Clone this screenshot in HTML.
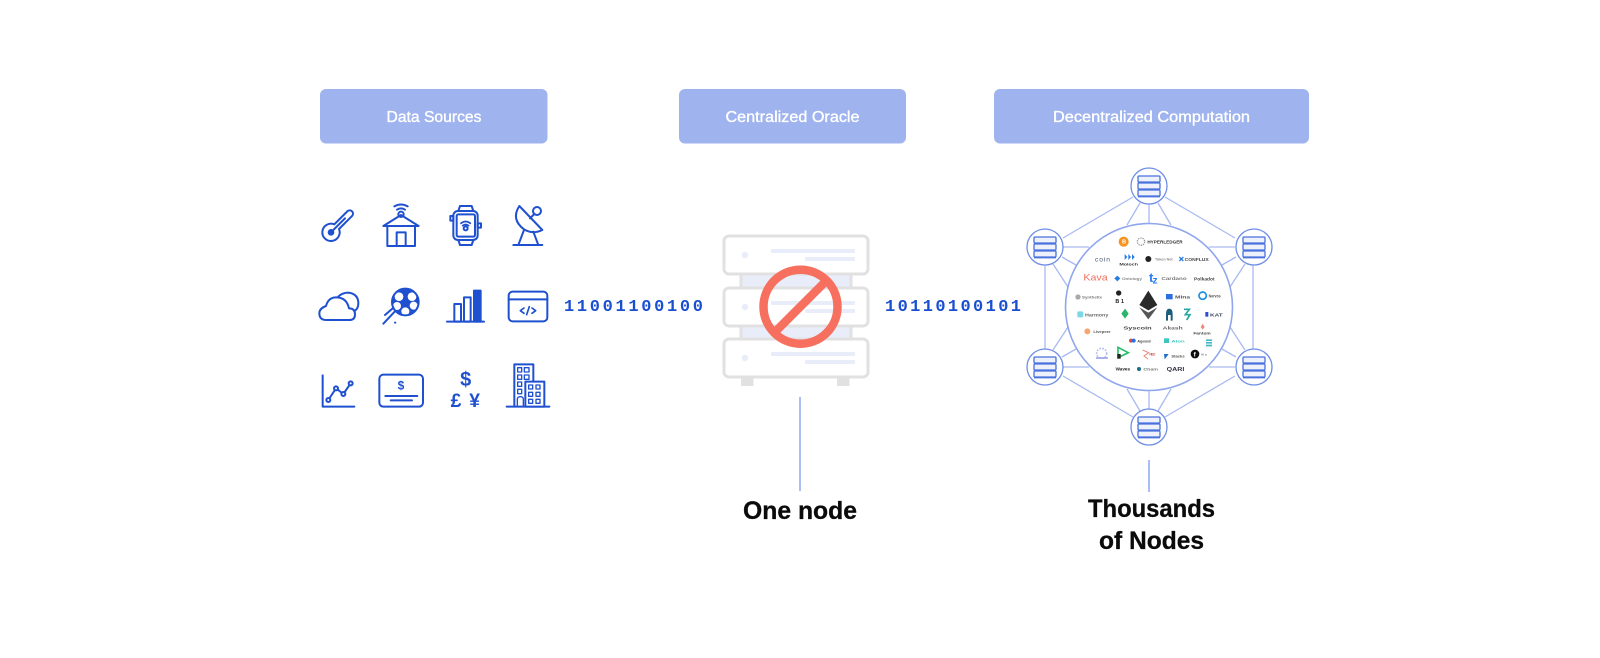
<!DOCTYPE html>
<html lang="en">
<head>
<meta charset="utf-8">
<title>Centralized Oracle vs Decentralized Computation</title>
<style>
html,body{margin:0;padding:0;background:#fff;width:1600px;height:658px;overflow:hidden}
svg{display:block}
text{font-family:"Liberation Sans",sans-serif}
</style>
</head>
<body>
<svg width="1600" height="658" viewBox="0 0 1600 658" xmlns="http://www.w3.org/2000/svg">
<defs>
<filter id="soft" x="-5%" y="-5%" width="110%" height="110%"><feGaussianBlur stdDeviation="0.45"/></filter>
<g id="srv" fill="#eef1fb" stroke="#4a72dc" stroke-width="1.300">
  <rect x="-11" y="-10" width="22" height="6" rx="1"/>
  <rect x="-11" y="-3" width="22" height="6" rx="1"/>
  <rect x="-11" y="4" width="22" height="6" rx="1"/>
  <path d="M-11 10.6H11" stroke-width="1.600"/>
</g>
</defs>

<!-- headers -->
<g fill="#9fb3ef">
  <rect x="320" y="89" width="227.500" height="54.500" rx="6"/>
  <rect x="679" y="89" width="227" height="54.500" rx="6"/>
  <rect x="994" y="89" width="315" height="54.500" rx="6"/>
</g>
<g fill="#fff" stroke="#fff" stroke-width="0.350" font-size="15.500" text-anchor="start">
  <text x="386.500" y="122" textLength="95" lengthAdjust="spacingAndGlyphs">Data Sources</text>
  <text x="725.500" y="122" textLength="134" lengthAdjust="spacingAndGlyphs">Centralized Oracle</text>
  <text x="1053" y="122" textLength="197" lengthAdjust="spacingAndGlyphs">Decentralized Computation</text>
</g>

<!-- data source icons -->
<g transform="translate(300,180) scale(0.33333)" fill="none" stroke="#1f50d0" stroke-width="6" stroke-linecap="round" stroke-linejoin="round">
  <!-- thermometer -->
  <path d="M103 133L143 93A10 10 0 0 1 157 107L117 147A26 26 0 1 1 103 133Z"/>
  <path d="M93 157L135 115"/><circle cx="93" cy="157" r="7" fill="#1f50d0"/>
  <!-- house -->
  <path d="M250 138L303 105L356 138Z"/><path d="M262 138V198H345V138"/><path d="M290 198V157H317V198"/>
  <circle cx="303" cy="103" r="8"/><path d="M291 89Q303 81 315 89M283 79Q303 68 323 79"/>
  <!-- watch -->
  <rect x="460" y="93" width="73" height="87" rx="14"/><rect x="470" y="103" width="55" height="67" rx="5"/>
  <path d="M475 93L480 78H515L520 93M475 180L480 195H515L520 180"/>
  <rect x="451" y="108" width="9" height="14"/><rect x="533" y="130" width="10" height="13"/>
  <circle cx="497" cy="145" r="6"/><path d="M483 130Q497 119 511 130M488 137Q497 130 506 137" stroke-width="5"/>
  <!-- satellite -->
  <path d="M658 78L727 150Q698 164 672 148Q632 118 658 78Z"/><circle cx="711" cy="93" r="12"/><path d="M690 115L703 102"/>
  <path d="M672 150L655 195M700 155L715 195M640 195H727"/>
  <!-- cloud -->
  <path d="M80 420H148Q165 420 165 403Q165 385 147 385Q140 352 108 352Q85 352 78 378Q58 385 58 400Q58 420 80 420Z"/>
  <path d="M113 352Q125 338 145 338Q175 342 175 370Q175 385 165 392"/>
  <!-- soccer -->
  <circle cx="316" cy="366" r="40" fill="#1f50d0" stroke="none"/>
  <g fill="#fff" stroke="none"><circle cx="297" cy="350" r="13"/><circle cx="336" cy="350" r="13"/><circle cx="341" cy="377" r="12"/><circle cx="316" cy="394" r="12"/><circle cx="291" cy="378" r="12"/></g>
  <circle cx="316" cy="366" r="40"/>
  <path d="M316 353L329 364L324 379H308L303 364Z" fill="#1f50d0" stroke="none"/>
  <path d="M250 431L285 394M255 405L278 385M285 428H286"/>
  <!-- bars -->
  <path d="M441 425H552"/><rect x="463" y="372" width="20" height="53"/><rect x="492" y="352" width="20" height="73"/><rect x="522" y="332" width="20" height="93" fill="#1f50d0"/>
  <!-- code -->
  <rect x="626" y="335" width="116" height="89" rx="12"/><path d="M626 358H742"/>
  <path d="M672 384L661 392L672 400M696 384L707 392L696 400M688 380L680 404" stroke-width="5"/>
  <!-- chart -->
  <path d="M68 586V680H163"/><path d="M85 660L108 625L130 642L152 610"/>
  <g fill="#fff"><circle cx="85" cy="660" r="6"/><circle cx="108" cy="625" r="6"/><circle cx="130" cy="642" r="6"/><circle cx="152" cy="610" r="6"/></g>
  <!-- card -->
  <rect x="238" y="584" width="131" height="96" rx="12"/><path d="M256 648H352M272 661H336"/>
  <!-- building -->
  <path d="M620 680H748"/><path d="M643 680V553H700V605"/><rect x="676" y="605" width="57" height="75" fill="#fff"/>
  <g stroke-width="4">
    <rect x="653" y="563" width="12" height="13"/><rect x="673" y="563" width="14" height="13"/>
    <rect x="653" y="585" width="12" height="13"/><rect x="673" y="585" width="14" height="13"/>
    <rect x="653" y="606" width="12" height="13"/><rect x="653" y="628" width="12" height="13"/>
    <rect x="686" y="615" width="12" height="12"/><rect x="708" y="615" width="12" height="12"/>
    <rect x="686" y="637" width="12" height="12"/><rect x="708" y="637" width="12" height="12"/>
    <rect x="686" y="658" width="12" height="12"/><rect x="708" y="658" width="12" height="12"/>
    <path d="M652 680V658Q652 650 661 650Q670 650 670 658V680"/>
  </g>
  <g fill="#1f50d0" stroke="none" text-anchor="middle" font-weight="bold">
    <text x="303" y="628" font-size="36">$</text>
    <text x="497" y="618" font-size="60">$</text>
    <text x="468" y="681" font-size="58">£</text>
    <text x="524" y="681" font-size="58">¥</text>
  </g>
</g>

<!-- binary -->
<g font-size="17" font-weight="bold" fill="#1a4fd0">
  <text x="564" y="311" style="font-family:'Liberation Mono',monospace" textLength="139">11001100100</text>
  <text x="885" y="311" style="font-family:'Liberation Mono',monospace" textLength="136">10110100101</text>
</g>

<!-- central server -->
<g>
  <g fill="#e9edfa" stroke="#e1e1e1" stroke-width="3">
    <rect x="741" y="272" width="110" height="18"/>
    <rect x="741" y="324" width="110" height="17"/>
  </g>
  <g fill="#fff" stroke="#e1e1e1" stroke-width="3">
    <rect x="724" y="236" width="144" height="38" rx="5"/>
    <rect x="724" y="288" width="144" height="38" rx="5"/>
    <rect x="724" y="339" width="144" height="38" rx="5"/>
  </g>
  <g fill="#e1e1e1"><rect x="741" y="378" width="12.500" height="8"/><rect x="837" y="378" width="12.500" height="8"/></g>
  <g fill="#e9edfa">
    <circle cx="745" cy="255" r="3.200"/><circle cx="745" cy="307" r="3.200"/><circle cx="745" cy="358" r="3.200"/>
    <rect x="771" y="249" width="84" height="4" rx="1"/><rect x="805" y="257" width="50" height="4" rx="1"/>
    <rect x="771" y="301" width="84" height="4" rx="1"/><rect x="805" y="309" width="50" height="4" rx="1"/>
    <rect x="771" y="352" width="84" height="4" rx="1"/><rect x="805" y="360" width="50" height="4" rx="1"/>
  </g>
  <circle cx="800.500" cy="306.700" r="37" fill="none" stroke="#f76f5f" stroke-width="8.500"/>
  <path d="M775 332L826 281" stroke="#f76f5f" stroke-width="8.500"/>
</g>

<!-- network -->
<g fill="none" stroke="#a9baf1" stroke-width="1.300">
  <path d="M1133 197L1063 238M1165 197L1235 238M1133 417L1063 376M1165 417L1235 376"/>
  <path d="M1045 265V349M1253 265V349"/>
  <path d="M1140 203L1127 225M1149 204V223M1158 203L1171 225"/>
  <path d="M1140 411L1127 389M1149 410V391M1158 411L1171 389"/>
  <path d="M1063 247H1089M1062 257L1076 265M1053 264L1068 287"/>
  <path d="M1235 247H1209M1236 257L1222 265M1245 264L1230 287"/>
  <path d="M1063 367H1089M1062 357L1076 349M1053 350L1068 327"/>
  <path d="M1235 367H1209M1236 357L1222 349M1245 350L1230 327"/>
</g>
<circle cx="1149" cy="307" r="83.500" fill="#fff" stroke="#8fa6ec" stroke-width="1.600"/>
<g fill="#fff" stroke="#6f8ee6" stroke-width="1.300">
  <circle cx="1149" cy="186" r="18"/><circle cx="1149" cy="427" r="18"/>
  <circle cx="1045" cy="247" r="18"/><circle cx="1045" cy="367" r="18"/>
  <circle cx="1254" cy="247" r="18"/><circle cx="1254" cy="367" r="18"/>
</g>
<use href="#srv" x="1149" y="186"/><use href="#srv" x="1149" y="427"/>
<use href="#srv" x="1045" y="247"/><use href="#srv" x="1045" y="367"/>
<use href="#srv" x="1254" y="247"/><use href="#srv" x="1254" y="367"/>

<!-- ecosystem logos -->
<g transform="translate(1040,220) scale(0.33333)" filter="url(#soft)" font-weight="bold">
  <circle cx="251" cy="65" r="15" fill="#f7931a"/><text x="246" y="71" font-size="17" fill="#fff">B</text>
  <circle cx="303" cy="65" r="11" fill="none" stroke="#999" stroke-width="4" stroke-dasharray="4 3"/>
  <text x="322" y="71" font-size="15" fill="#333" textLength="106" lengthAdjust="spacingAndGlyphs">HYPERLEDGER</text>
  <text x="165" y="124" font-size="20" fill="#456" font-weight="normal" textLength="45">coin</text>
  <path d="M254 102L262 111L254 120ZM265 102L273 111L265 120ZM276 102L284 111L276 120Z" fill="#2b7de0"/>
  <text x="238" y="136" font-size="11" fill="#333" textLength="56" lengthAdjust="spacingAndGlyphs">Moloch</text>
  <circle cx="325" cy="117" r="9" fill="#222"/><text x="345" y="122" font-size="12" fill="#888" textLength="53" lengthAdjust="spacingAndGlyphs">Token Net</text>
  <path d="M418 111L430 123M430 111L418 123" stroke="#2b7de0" stroke-width="4"/>
  <text x="434" y="123" font-size="15" fill="#444" textLength="72" lengthAdjust="spacingAndGlyphs">CONFLUX</text>
  <text x="130" y="182" font-size="28" fill="#f0705f" font-weight="normal" textLength="73" lengthAdjust="spacingAndGlyphs">Kava</text>
  <path d="M232 167L241 175L232 184L223 175Z" fill="#2b7de0"/><text x="246" y="180" font-size="12" fill="#888" textLength="60" lengthAdjust="spacingAndGlyphs">Ontology</text>
  <text x="327" y="186" font-size="40" fill="#2c7df7">t</text><text x="338" y="190" font-size="30" fill="#2c7df7">z</text>
  <text x="364" y="180" font-size="13" fill="#777" textLength="76" lengthAdjust="spacingAndGlyphs">Cardano</text>
  <text x="462" y="181" font-size="15" fill="#444" textLength="62" lengthAdjust="spacingAndGlyphs">Polkadot</text>
  <circle cx="114" cy="231" r="8" fill="#aaa"/><text x="126" y="236" font-size="12" fill="#777" textLength="60" lengthAdjust="spacingAndGlyphs">Synthetix</text>
  <circle cx="236" cy="219" r="8" fill="#222"/><text x="226" y="249" font-size="16" fill="#222" textLength="26">B1</text>
  <path d="M325 212L352 255L325 271L298 255Z" fill="#2a2a2a"/><path d="M298 262L325 278L352 262L325 298Z" fill="#555"/>
  <path d="M378 222H398V238H378Z" fill="#2b6fe0"/><text x="405" y="236" font-size="13" fill="#555" textLength="45" lengthAdjust="spacingAndGlyphs">Mina</text>
  <circle cx="488" cy="227" r="11" fill="none" stroke="#1c8fe0" stroke-width="5"/><text x="506" y="233" font-size="13" fill="#555" textLength="36" lengthAdjust="spacingAndGlyphs">Nervos</text>
  <rect x="112" y="274" width="18" height="18" rx="4" fill="#7bd7e6"/><text x="135" y="290" font-size="13" fill="#666" textLength="70" lengthAdjust="spacingAndGlyphs">Harmony</text>
  <path d="M255 266L266 281L255 296L244 281Z" fill="#2bb56a"/>
  <path d="M378 302V282Q378 266 388 266Q398 266 398 282V302H392V285H384V302Z" fill="#1d5f7a"/>
  <path d="M432 268H448L436 284H450L440 300" fill="none" stroke="#26a7a0" stroke-width="5"/>
  <rect x="496" y="276" width="9" height="14" fill="#2b50d0"/><text x="510" y="290" font-size="13" fill="#345" textLength="38" lengthAdjust="spacingAndGlyphs">KAT</text>
  <circle cx="142" cy="334" r="9" fill="#f5a672"/><text x="160" y="339" font-size="12" fill="#555" textLength="52" lengthAdjust="spacingAndGlyphs">Livepeer</text>
  <text x="250" y="329" font-size="13" fill="#444" textLength="85" lengthAdjust="spacingAndGlyphs">Syscoin</text>
  <text x="368" y="329" font-size="13" fill="#666" textLength="60" lengthAdjust="spacingAndGlyphs">Akash</text>
  <path d="M488 311L494 321L488 329L482 321Z" fill="#ee8a7c"/><text x="460" y="343" font-size="11" fill="#444" textLength="52" lengthAdjust="spacingAndGlyphs">Fantom</text>
  <circle cx="273" cy="362" r="6" fill="#e0483e"/><circle cx="281" cy="362" r="6" fill="#2b6fe0"/><text x="292" y="367" font-size="12" fill="#444" textLength="40" lengthAdjust="spacingAndGlyphs">Algorand</text>
  <rect x="372" y="355" width="15" height="14" fill="#3cc6bb"/><text x="394" y="367" font-size="12" fill="#3cc6bb" textLength="40" lengthAdjust="spacingAndGlyphs">Aion</text>
  <path d="M498 358H516V363H498ZM498 366H516V371H498ZM498 374H516V379H498Z" fill="#45b8c8"/>
  <circle cx="185" cy="400" r="15" fill="none" stroke="#b6bdf0" stroke-width="5" stroke-dasharray="5 4"/><path d="M168 414H204" stroke="#8a90e0" stroke-width="4"/>
  <path d="M234 382L265 398L234 413Z" fill="none" stroke="#2bbf6a" stroke-width="5"/><rect x="232" y="402" width="10" height="14" fill="#222"/>
  <path d="M308 390L326 398L312 408L324 417" fill="none" stroke="#ef8577" stroke-width="3"/><text x="328" y="406" font-size="10" fill="#c55" textLength="18">NEO</text>
  <path d="M372 402L386 402L374 418Z" fill="#1c6fd0"/><text x="394" y="412" font-size="11" fill="#555" textLength="40" lengthAdjust="spacingAndGlyphs">Stacks</text>
  <circle cx="465" cy="402" r="13" fill="#111"/><text x="461" y="409" font-size="19" fill="#fff">f</text><text x="484" y="406" font-size="9" fill="#666" textLength="16">Nu</text>
  <text x="227" y="452" font-size="15" fill="#222" textLength="43" lengthAdjust="spacingAndGlyphs">Waves</text>
  <circle cx="297" cy="447" r="6" fill="#14708a"/><text x="310" y="451" font-size="11" fill="#777" textLength="44" lengthAdjust="spacingAndGlyphs">Chain</text>
  <text x="380" y="453" font-size="16" fill="#334" textLength="53" lengthAdjust="spacingAndGlyphs">QARI</text>
</g>

<!-- callouts -->
<path d="M800 397V491" stroke="#7a9bee" stroke-width="1.300"/>
<path d="M1149 460V492" stroke="#7a9bee" stroke-width="1.300"/>
<g fill="#0b0b0b" stroke="#0b0b0b" stroke-width="0.300" font-size="25" font-weight="bold">
  <text x="743" y="519" textLength="114" lengthAdjust="spacingAndGlyphs">One node</text>
  <text x="1088" y="517" textLength="127" lengthAdjust="spacingAndGlyphs">Thousands</text>
  <text x="1099" y="549" textLength="105" lengthAdjust="spacingAndGlyphs">of Nodes</text>
</g>
</svg>
</body>
</html>
